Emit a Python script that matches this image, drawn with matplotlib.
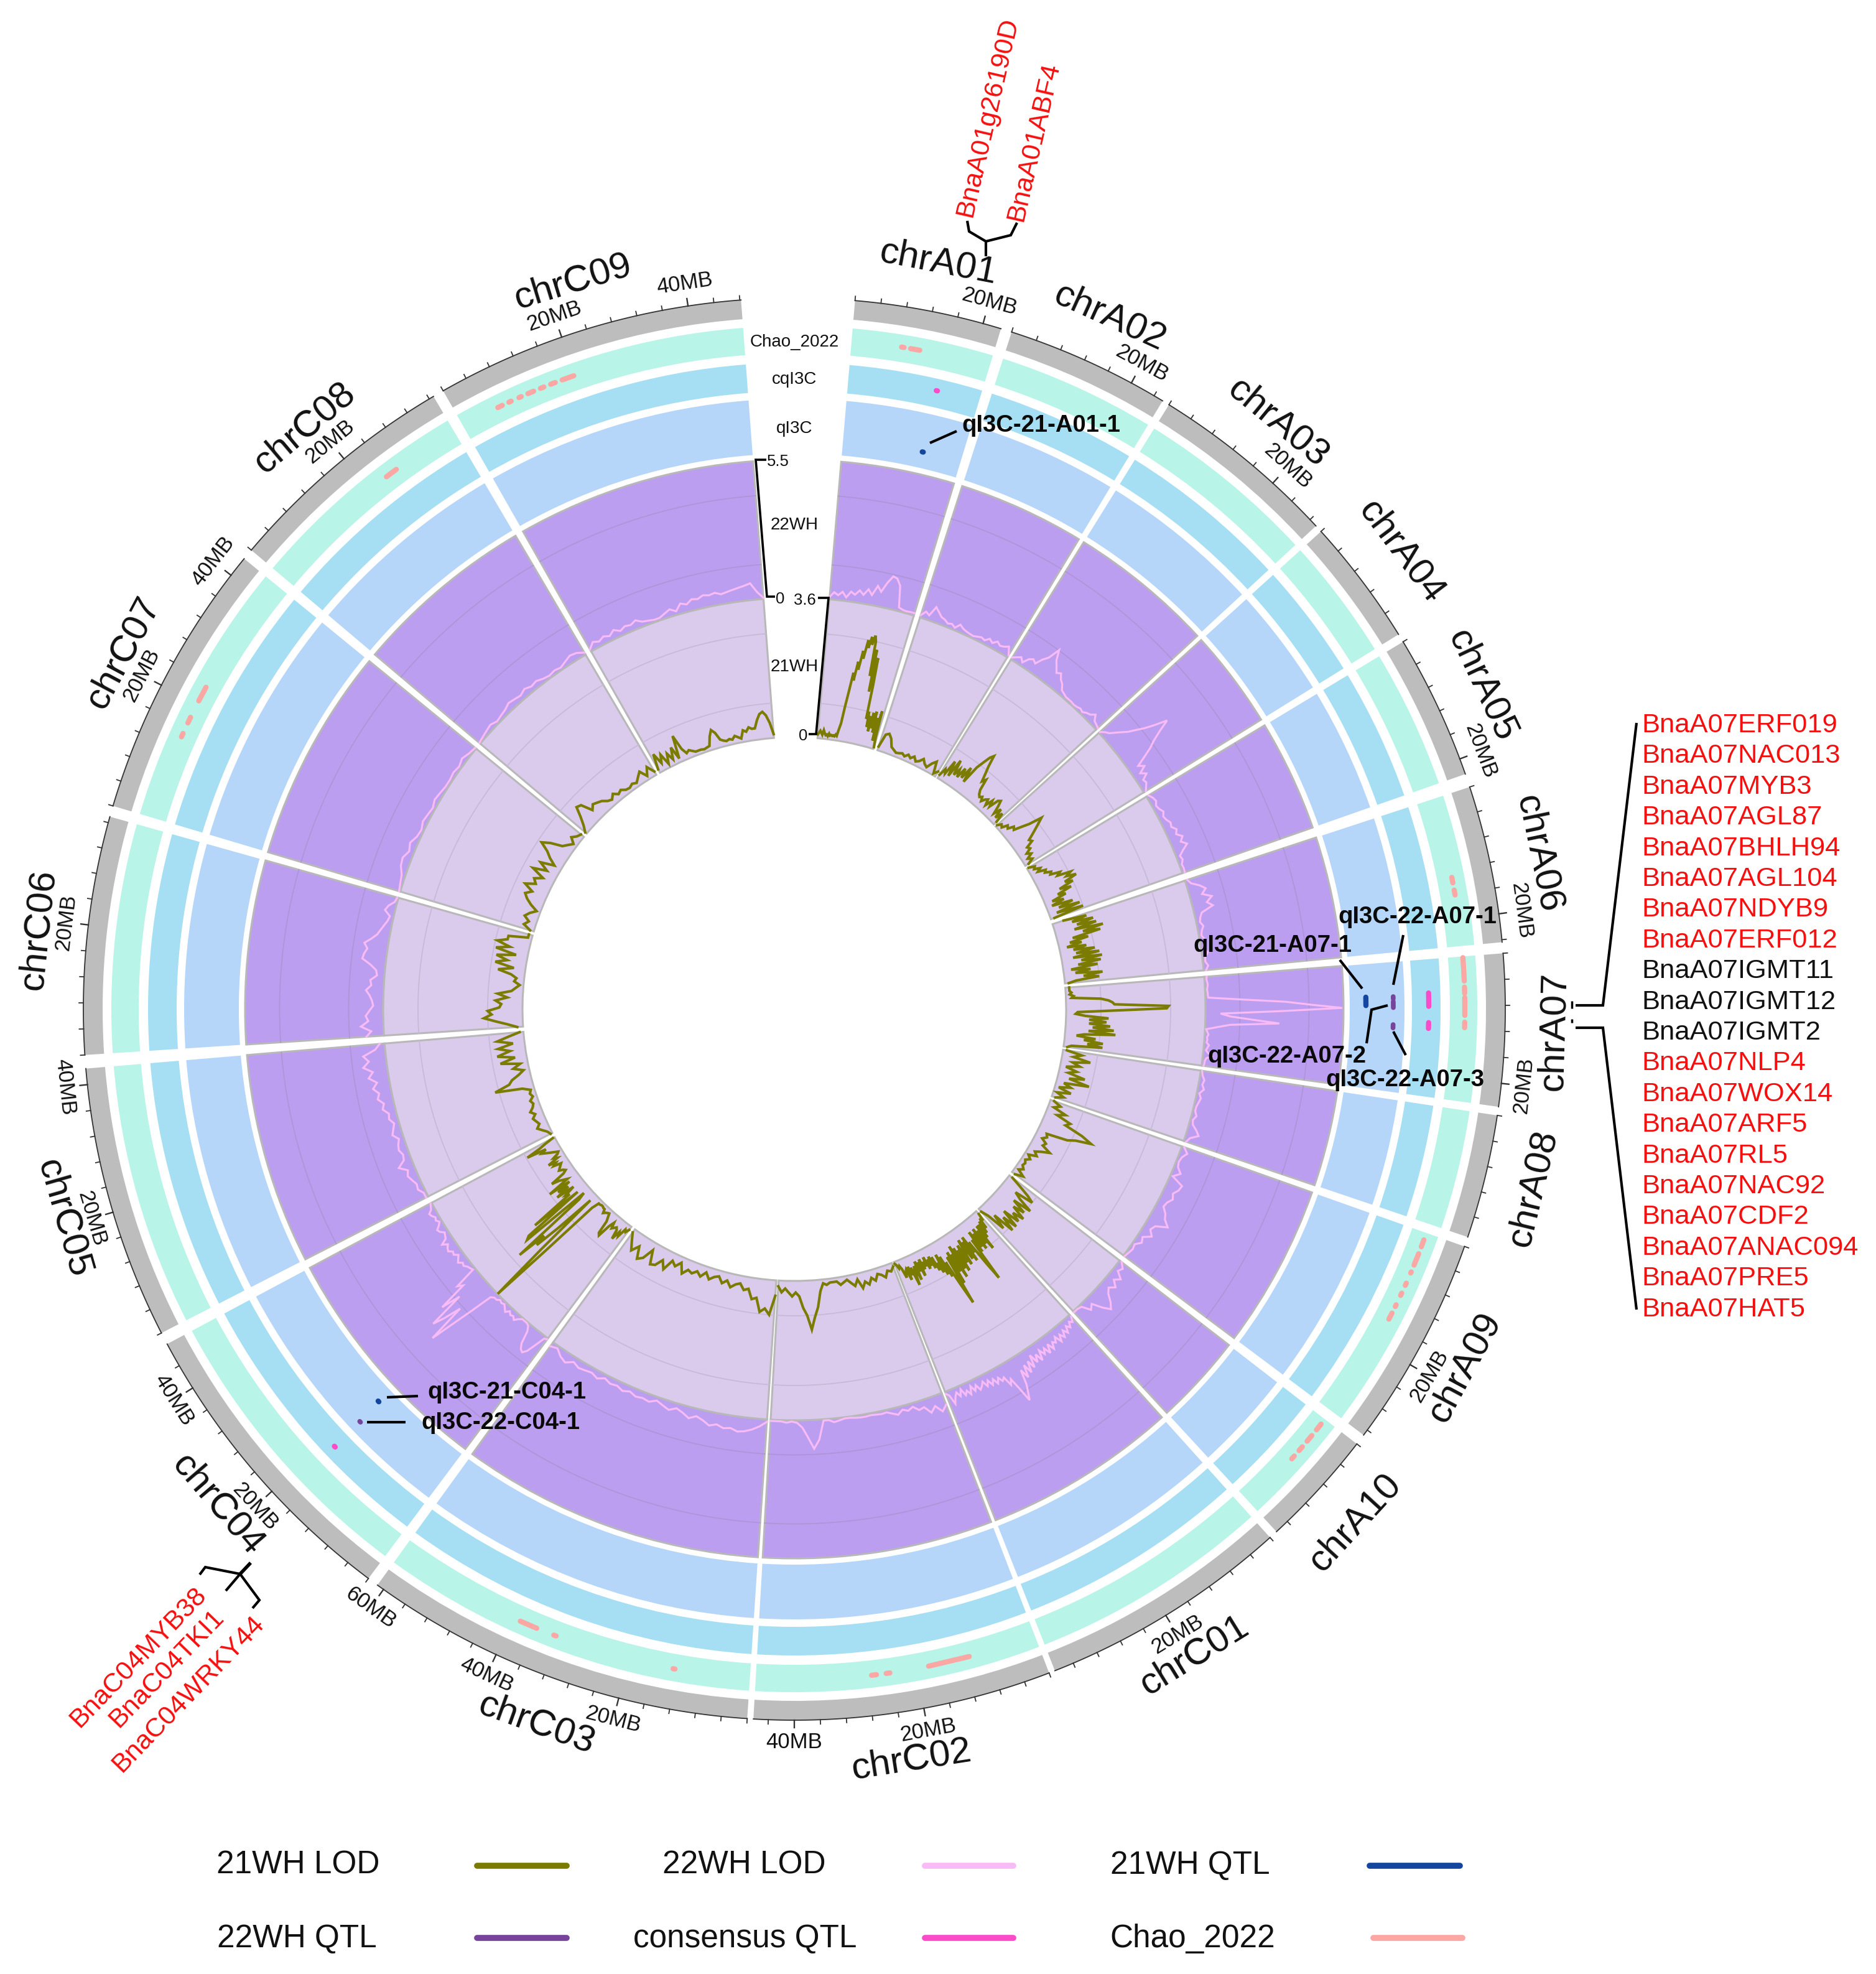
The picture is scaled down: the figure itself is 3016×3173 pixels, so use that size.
import numpy as np
import matplotlib
matplotlib.use("Agg")
import matplotlib.pyplot as plt

plt.rcParams['font.family'] = ['Liberation Sans', 'DejaVu Sans']

W, H = 3016, 3173
CX, CY = 1277, 1622
RMAX = 1500

# ---------------- chromosomes ----------------
CHROMS = ["chrA01","chrA02","chrA03","chrA04","chrA05","chrA06","chrA07","chrA08","chrA09","chrA10",
          "chrC01","chrC02","chrC03","chrC04","chrC05","chrC06","chrC07","chrC08","chrC09"]
CHR_START_DEG = [4.9,17.8,31.8,47.8,58.9,71.8,85.5,98.6,109.5,127.7,138.0,159.0,183.8,216.8,242.9,266.3,286.6,310.2,330.4]
CHR_END_DEG   = [16.9,31.2,47.2,58.2,70.7,84.6,97.9,108.7,126.8,137.3,158.5,183.3,215.9,241.9,265.2,285.7,309.3,329.5,355.7]
DEG_PER_MB = 0.525

# ---------------- 21WH LOD (0-3.6) ----------------
lod21_A01 = [0.1,0.15,0.2,0.15,0.1,0.22,0.15,0.1,0.12,0.08,0.15,0.1,0.12,0.1,0.12,0.1,0.15,0.12,0.3,0.45,0.9,1.3,1.8,1.6,2.1,1.9,2.4,2.2,2.7,2.5,2.8,2.6,2.85,2.7,1.8,2.5,1.4,2.3,1.6,0.7,0.9,0.5,0.8,0.4,0.9,0.5,0.95,0.4,0.8,0.2,1.0,0.3,0.05]
lod21_A02 = [0.1,0.45,0.5,0.4,0.2,0.15,0.1,0.12,0.15,0.1,0.18,0.12,0.2,0.1,0.15,0.25,0.15,0.1,0.25,0.35,0.05,0.15]
lod21_A03 = [0.1,0.3,0.2,0.6,0.2,0.7,0.3,0.5,0.3,0.6,0.35,0.7,0.3,0.8,1.0,1.2,1.3,1.0,0.8,0.6,0.7,0.4,0.3,0.25,0.3,0.2,0.3,0.35,0.2,0.4,0.25,0.5,0.55,0.4,0.2,0.4,0.15,0.35,0.1]
lod21_A04 = [0.05,0.15,0.1,0.25,0.2,0.35,0.3,0.5,0.7,1.05,0.9,0.75,0.6,0.45,0.5,0.3,0.35,0.2,0.3,0.15,0.25,0.1]
lod21_A05 = [0.05,0.2,0.15,0.3,0.2,0.4,0.35,0.5,0.45,0.7,0.6,0.95,0.8,1.05,0.7,0.9,0.5,0.8,0.4,0.6,0.2,0.5,0.15,0.7,0.3,0.85,0.2,0.9,0.1]
lod21_A06 = [0.3,0.9,0.5,1.05,0.6,1.1,0.5,1.25,0.7,1.15,0.4,0.8,0.3,0.6,0.2,0.7,0.35,0.9,0.4,1.0,0.3,1.05,0.5,1.0,0.4,0.9,0.2,0.7,0.3,1.0,0.5,0.9,0.3,0.1]
lod21_A07 = [0.1,0.1,0.1,0.15,0.1,0.2,0.15,0.9,1.1,1.2,1.25,2.65,2.6,1.3,0.3,0.25,0.5,1.1,0.6,1.05,0.6,1.15,0.7,1.25,0.6,1.3,0.5,0.3,0.8,0.5,1.0,0.6,1.0,0.2,0.1]
lod21_A08 = [0.1,0.5,0.3,0.75,0.3,0.5,0.15,0.45,0.25,0.7,0.3,0.85,0.2,0.4,0.1,0.45,0.1,0.3,0.1]
lod21_A09 = [0.1,0.3,0.15,0.5,0.3,0.7,0.6,1.1,1.4,1.0,0.8,0.25,0.3,0.2,0.35,0.3,0.55,0.35,0.2,0.3,0.1,0.2,0.1,0.15,0.12,0.2,0.1,0.3,0.1]
lod21_A10 = [0.1,0.4,0.7,0.9,0.4,0.6,1.0,0.5,0.9,0.6,1.0,0.7,0.95,0.5,1.0,0.6,1.0,0.4,0.8,0.3,0.1]
lod21_C01 = [0.1,0.3,0.2,0.5,0.25,0.6,0.3,0.7,0.3,1.0,0.4,0.8,0.3,0.9,0.4,0.8,0.3,0.9,0.5,1.7,1.2,0.5,0.8,0.3,1.0,0.4,0.9,0.3,0.6,1.0,0.4,0.9,0.5,1.1,0.4,1.0,0.3,1.2,0.5,1.0,0.4,1.3,0.5,1.85,1.3,0.6,1.0,0.4,0.9,0.3,0.8,0.5,0.7,0.3,0.6,0.25,0.5,0.3,0.55,0.2,0.45,0.3,0.5,0.2,0.65,0.25,0.5,0.2,0.7,0.3,0.4,0.8,0.3,0.5,0.25,0.6,0.3,0.35,0.5,0.25,0.15,0.2,0.1,0.05]
lod21_C02 = [0.1,0.2,0.15,0.3,0.2,0.15,0.3,0.2,0.35,0.25,0.4,0.15,0.3,0.2,0.1,0.15,0.2,0.1,0.1,0.1,0.15,0.1,0.3,0.7,0.95,1.27,0.9,0.7,0.4,0.3,0.4,0.3,0.2,0.3,0.15]
lod21_C03 = [0.4,0.9,0.75,0.85,0.5,0.55,0.3,0.35,0.2,0.25,0.35,0.2,0.3,0.15,0.2,0.3,0.15,0.3,0.2,0.3,0.25,0.4,0.15,0.3,0.2,0.5,0.3,0.5,0.55,0.2,0.5,0.6,0.3,0.5,0.3,0.1]
lod21_C04 = [0.1,0.2,0.15,0.4,0.3,0.55,0.3,0.25,0.3,0.35,0.2,0.35,0.7,0.65,0.3,0.2,0.1,0.12,0.15,0.2,0.1,0.1,0.08,0.08,0.1,0.1,0.3,1.9,3.6,2.0,0.2,1.3,2.0,1.7,2.5,0.4,0.2,2.1,2.0,0.3,1.7,0.5,0.6,0.3,0.8,0.4,0.7,0.3,0.9,0.3,0.4,0.5,0.7,0.3,0.2,0.25,0.35,0.3,0.25,0.2,0.4,0.3,0.5,0.2,0.3,0.15,0.1,0.2,0.3,0.4,0.5,0.35,0.87,0.5,0.3,0.05]
lod21_C05 = [0.05,0.1,0.2,0.3,0.2,0.25,0.3,0.2,0.3,0.2,0.15,0.2,0.1,0.15,0.1,0.3,1.0,0.6,0.5,0.3,0.15,0.4,0.2,0.7,0.3,0.75,0.4,0.7,0.3,0.7,0.4,0.1]
lod21_C06 = [0.15,0.4,0.7,1.0,0.8,0.9,0.6,0.55,0.7,0.4,0.65,0.3,0.2,0.1,0.25,0.2,0.35,0.7,0.3,0.8,0.5,0.8,0.3,0.85,0.5,0.85,0.6,0.6,0.1,0.1]
lod21_C07 = [0.1,0.3,0.2,0.35,0.25,0.1,0.3,0.45,0.55,0.4,0.65,0.4,0.5,0.3,0.65,0.3,0.55,0.2,0.4,0.55,0.8,0.6,0.3,0.2,0.1,0.25,0.15,0.1]
lod21_C08 = [0.05,0.2,0.4,0.65,0.6,0.3,0.4,0.35,0.3,0.2,0.15,0.25,0.15,0.2,0.12,0.1,0.15,0.1,0.2,0.3,0.1,0.3,0.1]
lod21_C09 = [0.1,0.5,0.2,0.4,0.1,0.35,0.15,0.45,0.1,0.7,0.3,0.15,0.2,0.15,0.1,0.1,0.1,0.08,0.1,0.12,0.35,0.5,0.4,0.2,0.15,0.12,0.15,0.12,0.2,0.15,0.1,0.3,0.25,0.35,0.3,0.3,0.5,0.65,0.7,0.6,0.4,0.1]

# ---------------- 22WH LOD (0-5.5) ----------------
lod22_A01 = [0.1,0.3,0.2,0.35,0.15,0.4,0.3,0.5,0.35,0.6,0.4,0.8,0.6,1.0,1.3,1.25,1.0,0.15,0.1,0.08,0.1,0.1]
lod22_A02 = [0.1,0.3,0.2,0.6,0.45,0.3,0.25,0.15,0.2,0.1,0.3,0.2,0.15,0.12,0.1,0.15,0.2,0.15,0.3,0.2,0.35,0.25,0.3,0.4,0.1]
lod22_A03 = [0.1,0.2,0.3,0.15,0.4,0.5,0.4,0.7,0.9,1.39,1.0,0.8,0.6,0.7,0.5,0.4,0.2,0.15,0.1,0.1,0.1,0.08,0.1,0.15,0.1,0.2,0.25,0.4,0.2,0.15,0.1]
lod22_A04 = [0.05,0.2,0.3,0.5,0.7,0.9,1.2,1.5,1.9,2.4,1.9,1.5,1.2,0.8,0.4,0.6,0.3,0.5,0.25,0.3,0.2,0.1]
lod22_A05 = [0.1,0.2,0.25,0.15,0.2,0.3,0.2,0.25,0.35,0.3,0.45,0.35,0.55,0.4,0.6,0.35,0.15,0.2,0.1,0.12,0.1]
lod22_A06 = [0.1,0.2,0.5,0.7,0.5,0.85,0.6,0.8,0.3,0.2,0.15,0.25,0.15,0.1,0.2,0.15,0.1,0.25,0.12,0.1,0.2,0.1]
lod22_A07 = [0.1,0.08,0.1,0.12,0.1,0.08,0.1,0.1,0.12,1.5,3.2,4.2,5.45,3.0,0.6,1.0,1.9,2.95,1.0,0.5,0.05,0.1,0.15,0.1,0.12,0.1,0.2,0.15,0.1,0.2,0.35,0.15,0.1,0.1,0.08]
lod22_A08 = [0.05,0.1,0.2,0.15,0.25,0.1,0.2,0.15,0.1,0.1,0.2,0.1,0.15,0.35,0.5,0.2,0.1]
lod22_A09 = [0.1,0.3,0.15,0.1,0.15,0.35,0.1,0.6,0.55,0.4,0.5,0.35,0.3,0.5,0.6,0.85,0.4,0.3,0.5,0.2,0.3,0.1,0.15,0.1,0.05]
lod22_A10 = [0.1,0.3,0.2,0.5,0.3,0.55,0.35,0.5,0.8,1.0,0.7,0.3,0.45,0.1,0.05,0.05]
lod22_C01 = [0.1,0.3,0.2,0.4,0.25,0.5,0.3,0.55,0.35,0.6,0.3,0.5,0.4,0.65,0.35,0.7,0.4,0.6,0.35,0.75,0.4,0.7,0.3,0.8,0.45,0.9,0.5,1.0,0.6,1.2,1.5,1.8,1.2,0.7,0.9,0.5,0.6,0.4,0.6,0.35,0.55,0.3,0.5,0.25,0.4,0.5,0.25,0.45,0.2,0.5,0.3,0.45,0.15,0.4,0.2,0.35,0.6,0.2,0.1]
lod22_C02 = [0.5,0.7,0.4,0.6,0.3,0.35,0.15,0.25,0.15,0.3,0.2,0.1,0.12,0.1,0.08,0.1,0.1,0.08,0.05,0.05,0.1,0.15,0.05,0.05,0.8,1.15,0.7,0.3,0.1,0.05,0.1,0.05,0.05,0.05]
lod22_C03 = [0.1,0.3,0.45,0.55,0.6,0.5,0.55,0.45,0.55,0.4,0.3,0.45,0.3,0.2,0.35,0.25,0.15,0.3,0.25,0.3,0.2,0.3,0.2,0.25,0.15,0.3,0.2,0.25,0.3,0.2,0.4,0.3,0.1,0.2]
lod22_C04 = [0.05,0.1,0.5,0.9,1.07,1.0,0.8,0.3,0.1,0.05,0.05,0.05,0.15,0.3,0.2,0.25,0.15,0.3,0.2,0.1,0.15,0.1,0.2,0.2,0.3,1.2,2.1,3.1,1.5,2.2,2.7,1.2,2.0,0.8,1.0,0.1,0.15,0.2,0.3,0.25,0.4,0.3,0.2,0.35,0.3,0.45,0.4,0.3,0.5,0.25,0.2,0.15,0.3,0.35,0.2,0.1,0.2,0.15,0.25,0.3,0.15,0.1,0.05]
lod22_C05 = [0.1,0.1,0.25,0.2,0.3,0.4,0.3,0.6,0.3,0.25,0.35,0.3,0.2,0.4,0.3,0.2,0.35,0.3,0.5,0.4,0.6,0.5,0.7,0.5,0.8,0.6,0.95,0.7,0.9,0.4,0.2]
lod22_C06 = [0.7,0.5,0.9,0.6,0.7,0.55,0.4,0.45,0.55,0.7,0.5,0.55,0.3,0.35,0.6,0.95,0.9,0.8,0.95,0.7,0.5,0.4,0.3,0.2,0.15,0.4,0.3,0.1,0.05]
lod22_C07 = [0.05,0.1,0.15,0.3,0.35,0.2,0.3,0.15,0.1,0.2,0.15,0.1,0.2,0.15,0.1,0.1,0.15,0.1,0.2,0.1,0.05]
lod22_C08 = [0.05,0.1,0.15,0.2,0.1,0.15,0.2,0.3,0.25,0.2,0.3,0.2,0.25,0.15,0.1,0.15,0.1,0.2,0.3,0.25,0.1]
lod22_C09 = [0.1,0.3,0.2,0.3,0.2,0.35,0.2,0.3,0.25,0.35,0.2,0.15,0.1,0.1,0.2,0.3,0.15,0.4,0.3,0.45,0.4,0.5,0.45,0.5,0.4,0.45,0.5,0.55,0.6,0.67,0.3,0.05]

LOD21 = [lod21_A01,lod21_A02,lod21_A03,lod21_A04,lod21_A05,lod21_A06,lod21_A07,lod21_A08,lod21_A09,lod21_A10,
         lod21_C01,lod21_C02,lod21_C03,lod21_C04,lod21_C05,lod21_C06,lod21_C07,lod21_C08,lod21_C09]
LOD22 = [lod22_A01,lod22_A02,lod22_A03,lod22_A04,lod22_A05,lod22_A06,lod22_A07,lod22_A08,lod22_A09,lod22_A10,
         lod22_C01,lod22_C02,lod22_C03,lod22_C04,lod22_C05,lod22_C06,lod22_C07,lod22_C08,lod22_C09]

# ---------------- QTL intervals (chrom, start MB, end MB) ----------------
qtl21 = [("chrA01",15.3,15.5),("chrA07",6.3,7.9),("chrC04",18.7,18.9)]
qtl22 = [("chrA07",6.3,6.7),("chrA07",7.2,8.3),("chrA07",11.4,12.0),("chrC04",18.3,18.5)]
qtl_consensus = [("chrA01",15.3,15.5),("chrA07",5.8,6.7),("chrA07",6.9,8.1),("chrA07",10.9,11.9),("chrC04",18.2,18.4)]
qtl_chao = [("chrA01",8.2,8.6),("chrA01",9.7,11.2),
            ("chrA06",13.1,14.0),("chrA06",15.2,16.0),
            ("chrA07",0.2,1.9),("chrA07",2.2,4.0),("chrA07",5.0,6.0),("chrA07",6.7,9.6),("chrA07",10.7,11.6),
            ("chrA09",1.2,2.4),("chrA09",3.6,5.6),("chrA09",6.8,7.0),("chrA09",8.8,9.2),("chrA09",10.6,11.0),("chrA09",12.7,13.0),("chrA09",14.2,15.3),
            ("chrA10",1.0,2.2),("chrA10",3.4,4.6),("chrA10",5.8,6.6),("chrA10",7.8,8.4),
            ("chrC02",11.2,18.0),("chrC02",24.4,25.0),("chrC02",26.6,27.4),
            ("chrC03",12.3,12.6),("chrC03",32.4,32.8),("chrC03",35.8,38.7),
            ("chrC07",14.0,14.6),("chrC07",16.5,17.5),("chrC07",20.5,23.0),
            ("chrC08",23.5,25.5),
            ("chrC09",6.4,7.2),("chrC09",8.4,8.8),("chrC09",10.2,10.6),("chrC09",11.8,12.8),("chrC09",14.0,14.6),("chrC09",15.8,16.6),("chrC09",17.8,19.8)]

# ---------------- labels ----------------
qtl_labels = ["qI3C-21-A01-1","qI3C-22-A07-1","qI3C-21-A07-1","qI3C-22-A07-2","qI3C-22-A07-3","qI3C-21-C04-1","qI3C-22-C04-1"]
a07_genes = ["BnaA07ERF019","BnaA07NAC013","BnaA07MYB3","BnaA07AGL87","BnaA07BHLH94","BnaA07AGL104","BnaA07NDYB9","BnaA07ERF012",
             "BnaA07IGMT11","BnaA07IGMT12","BnaA07IGMT2","BnaA07NLP4","BnaA07WOX14","BnaA07ARF5","BnaA07RL5","BnaA07NAC92",
             "BnaA07CDF2","BnaA07ANAC094","BnaA07PRE5","BnaA07HAT5"]
a07_gene_black = ["BnaA07IGMT11","BnaA07IGMT12","BnaA07IGMT2"]
legend_names = ["21WH LOD","22WH LOD","21WH QTL","22WH QTL","consensus QTL","Chao_2022"]

# ---------------- styles ----------------
C_21 = "#DACBEC"; C_22 = "#BC9EF0"; C_Q = "#B5D6F8"; C_CQ = "#A6DFF3"; C_CH = "#B8F4E8"; C_G = "#BDBDBD"
C_LOD21 = "#7B7B00"; C_LOD22 = "#F9BBF6"; C_QTL21 = "#15469F"; C_QTL22 = "#76459B"; C_CONS = "#FB4BC8"; C_CHAO = "#FBA7A4"
EDGE = "#B8B8B8"
R21 = (437, 661); R22 = (661, 883); RQ = (893, 981); RCQ = (993, 1039); RCH = (1054, 1098); RG = (1112, 1143)

fig = plt.figure(figsize=(W/100, H/100), dpi=100, facecolor="white")
ax = fig.add_axes([(CX-RMAX)/W, (H-CY-RMAX)/H, 2*RMAX/W, 2*RMAX/H], projection="polar")
ax.set_theta_zero_location("N"); ax.set_theta_direction(-1)
ax.set_rlim(0, RMAX); ax.axis("off"); ax.patch.set_alpha(0)

START = dict(zip(CHROMS, CHR_START_DEG))

def th(deg):
    return np.radians(deg)

def mb2deg(ch, mb):
    return START[ch] + mb*DEG_PER_MB

for ch, s, e, v21, v22 in zip(CHROMS, CHR_START_DEG, CHR_END_DEG, LOD21, LOD22):
    m, w = th((s+e)/2), th(e-s)
    ax.bar(m, R22[1]-R22[0], width=w, bottom=R22[0], color=C_22, edgecolor=EDGE, linewidth=2.2, zorder=1)
    ax.bar(m, R21[1]-R21[0], width=w, bottom=R21[0], color=C_21, edgecolor=EDGE, linewidth=2.2, zorder=2)
    for (r0, r1), col in ((RQ, C_Q), (RCQ, C_CQ), (RCH, C_CH), (RG, C_G)):
        ax.bar(m, r1-r0, width=w, bottom=r0, color=col, linewidth=0, zorder=1)
    # grid
    tt = np.linspace(th(s), th(e), 60)
    for frac in (0.25, 0.75):
        ax.plot(tt, np.full(60, R21[0]+frac*(R21[1]-R21[0])), color="#C6BAD6", lw=1.3, zorder=3)
        ax.plot(tt, np.full(60, R22[0]+frac*(R22[1]-R22[0])), color="#AE95D8", lw=1.3, zorder=3)
    # outer axis line and ticks
    ax.plot(tt, np.full(60, RG[1]), color="#333333", lw=1.3, zorder=3)
    length = (e-s)/DEG_PER_MB
    for mb in np.arange(0, length, 4):
        a = th(mb2deg(ch, mb))
        major = (mb % 20 == 0) and mb > 0
        ax.plot([a, a], [RG[1], RG[1]+(12 if major else 7)], color="#333333", lw=1.7 if major else 1.3, zorder=3)
        if major:
            d = mb2deg(ch, mb)
            rot = 180-d if 90 < d < 270 else -d
            ax.text(a, RG[1]+36, f"{int(mb)}MB", fontsize=25, rotation=rot, rotation_mode="anchor",
                    ha="center", va="center", color="#111111", zorder=5)
    # chromosome label
    d = (s+e)/2
    rot = 180-d if 90 < d < 270 else -d
    ax.text(th(d), 1222, ch, fontsize=43.5, rotation=rot, rotation_mode="anchor", ha="center", va="center",
            color="#111111", zorder=5)
    # LOD curves
    for vals, (r0, r1), top, col, lw in ((v22, R22, 5.5, C_LOD22, 2.3), (v21, R21, 3.6, C_LOD21, 3.0)):
        vals = np.asarray(vals, float)
        pos = np.linspace(s, e, len(vals))
        ax.plot(th(pos), r0 + vals/top*(r1-r0), color=col, lw=lw, solid_joinstyle="miter", zorder=4)

for rows, r, col, lw in ((qtl21, 919, C_QTL21, 6.0), (qtl22, 963, C_QTL22, 5.5),
                         (qtl_consensus, 1020, C_CONS, 6.0), (qtl_chao, 1078, C_CHAO, 6.0)):
    for ch, a, b in rows:
        ax.plot(th(np.array([mb2deg(ch, a), mb2deg(ch, b)])), [r, r], color=col, lw=lw,
                solid_capstyle="round", zorder=5)

# ---------------- overlay in pixels ----------------
ov = fig.add_axes([0, 0, 1, 1]); ov.set_xlim(0, W); ov.set_ylim(H, 0); ov.axis("off"); ov.patch.set_alpha(0)

def poly(xs, ys, lw=3.0, color="black"):
    ov.plot(xs, ys, color=color, lw=lw, solid_joinstyle="miter", solid_capstyle="butt")

for name, r in (("Chao_2022", 1076), ("cqI3C", 1016), ("qI3C", 937), ("22WH", 782), ("21WH", 554)):
    ov.text(CX, CY-r+4, name, fontsize=20, ha="center", va="center", color="#111111")

# track axes
poly([1232, 1215, 1233, 1246], [739, 739, 959, 959], lw=2.6)
ov.text(1251, 742, "5.5", fontsize=18.5, ha="center", va="center", color="#111111")
ov.text(1254, 963, "0", fontsize=18.5, ha="center", va="center", color="#111111")
poly([1315, 1332, 1312, 1300], [961, 961, 1180, 1180], lw=2.6)
ov.text(1294, 965, "3.6", fontsize=18.5, ha="center", va="center", color="#111111")
ov.text(1291, 1183, "0", fontsize=18.5, ha="center", va="center", color="#111111")

# QTL labels and leaders
for name, x, y in zip(qtl_labels, (1546, 2151, 1918, 1941, 2131, 687, 677), (684, 1474, 1520, 1698, 1736, 2238, 2287)):
    ov.text(x, y, name, fontsize=27.5, fontweight="bold", ha="left", va="center", color="#0a0a0a", zorder=6)
poly([1495, 1538], [712, 693])
poly([2256, 2240], [1503, 1583])
poly([2154, 2190], [1543, 1589])
poly([2197, 2205, 2231], [1677, 1623, 1616])
poly([2260, 2240], [1696, 1658])
poly([622, 672], [2246, 2244])
poly([590, 652], [2286, 2286])

# A07 genes
y0, dy = 1166, 49.4
for i, g in enumerate(a07_genes):
    ov.text(2639, y0+i*dy, g, fontsize=31.3, ha="left", va="center",
            color="#111111" if g in a07_gene_black else "#F50F0F")
poly([2631, 2577, 2533], [1162, 1616, 1616])
poly([2631, 2577, 2533], [2105, 1652, 1652])
poly([2527, 2527], [1609, 1621], lw=2.5)
poly([2527, 2527], [1638, 1644], lw=2.5)

# A01 genes
ov.text(1588, 188, "BnaA01g26190D", fontsize=31, rotation=77, rotation_mode="anchor", ha="center", va="center", color="#F50F0F")
ov.text(1662, 228, "BnaA01ABF4", fontsize=31, rotation=77, rotation_mode="anchor", ha="center", va="center", color="#F50F0F")
poly([1585, 1585], [412, 388])
poly([1555, 1558, 1585, 1625, 1635], [355, 372, 388, 378, 358])

# C04 genes
ov.text(222, 2664, "BnaC04MYB38", fontsize=31, rotation=46, rotation_mode="anchor", ha="center", va="center", color="#F50F0F")
ov.text(268, 2682, "BnaC04TKI1", fontsize=31, rotation=46, rotation_mode="anchor", ha="center", va="center", color="#F50F0F")
ov.text(303, 2723, "BnaC04WRKY44", fontsize=31, rotation=46, rotation_mode="anchor", ha="center", va="center", color="#F50F0F")
poly([403, 386], [2512, 2530], lw=4)
poly([386, 330, 321], [2530, 2519, 2531])
poly([386, 363], [2530, 2557])
poly([386, 417, 406], [2530, 2572, 2585])

# legend
leg_cols = [C_LOD21, C_LOD22, C_QTL21, C_QTL22, C_CONS, C_CHAO]
leg_tx = [479, 1196, 1913, 477, 1198, 1917]
leg_ty = [2998, 2998, 2998, 3116, 3116, 3116]
leg_x0 = [767, 1487, 2202, 767, 1487, 2208]
leg_x1 = [911, 1629, 2347, 911, 1629, 2351]
leg_ly = [2999, 2999, 2999, 3115, 3115, 3115]
for n, c, tx, ty, a, b, ly in zip(legend_names, leg_cols, leg_tx, leg_ty, leg_x0, leg_x1, leg_ly):
    ov.text(tx, ty, n, fontsize=37, ha="center", va="center", color="#111111")
    ov.plot([a, b], [ly, ly], color=c, lw=7.0, solid_capstyle="round")

fig.savefig("out.png", dpi=100, facecolor="white")
